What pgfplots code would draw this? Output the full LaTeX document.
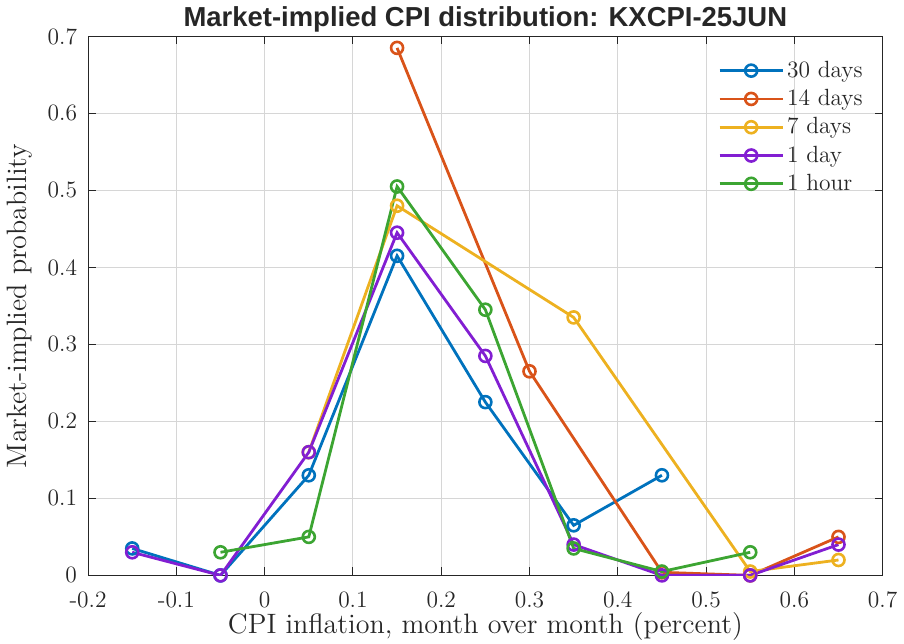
\documentclass[border=0pt]{standalone}
\usepackage{pgfplots}
\pgfplotsset{compat=1.18}
\usepackage{fontspec}
\newfontfamily\titlefont{Liberation Sans}
\definecolor{c1}{rgb}{0,0.447,0.741}
\definecolor{c2}{rgb}{0.85,0.325,0.098}
\definecolor{c3}{rgb}{0.929,0.694,0.125}
\definecolor{c4}{RGB}{130,30,210}
\definecolor{c5}{RGB}{60,165,50}
\definecolor{axc}{RGB}{38,38,38}
\begin{document}
\begin{tikzpicture}
\begin{axis}[
  scale only axis,
  width=396.5pt, height=269pt,
  xmin=-0.2, xmax=0.7, ymin=0, ymax=0.7,
  xtick={-0.2,-0.1,0,0.1,0.2,0.3,0.4,0.5,0.6,0.7},
  xticklabels={-0.2,-0.1,0,0.1,0.2,0.3,0.4,0.5,0.6,0.7},
  ytick={0,0.1,0.2,0.3,0.4,0.5,0.6,0.7},
  yticklabels={0,0.1,0.2,0.3,0.4,0.5,0.6,0.7},
  tick align=inside, xtick pos=both, ytick pos=both,
  major tick length=4pt,
  grid=major,
  grid style={black!16, line width=0.5pt},
  axis line style={axc, line width=0.5pt},
  tick style={axc, line width=0.5pt},
  ticklabel style={font=\fontsize{11.7}{14}\selectfont, text=axc},
  xticklabel style={yshift=-4.5pt},
  yticklabel style={xshift=-2pt},
  label style={font=\fontsize{14}{17}\selectfont, text=axc},
  xlabel={CPI inflation, month over month (percent)},
  xlabel style={yshift=2.5pt, inner sep=1.5pt},
  ylabel={Market-implied probability},
  ylabel style={yshift=1pt},
  title={\fontsize{13.7}{16}\titlefont\bfseries Market-implied CPI distribution: KXCPI-25JUN},
  title style={at={(0.5,1)}, anchor=south, yshift=-7.5pt, text=axc},
  every axis plot/.append style={line width=1.4pt, mark=o, mark size=3pt, mark options={solid, line width=1.3pt}},
  legend style={at={(0.785,0.968)}, anchor=north west, draw=none, fill=none,
    font=\fontsize{11.7}{14}\selectfont, text=axc, row sep=1.5pt,
    nodes={inner sep=1.5pt}},
  legend cell align=left,
  legend image code/.code={\draw[#1, mark repeat=2, mark phase=2] plot coordinates {(0pt,0pt) (15.75pt,0pt) (31.5pt,0pt)};},
]
\addplot[c1] coordinates {
  (-0.15,0.035) (-0.05,0) (0.05,0.13) (0.15,0.415) (0.25,0.225) (0.35,0.065) (0.45,0.13)
};
\addlegendentry{30 days}
\addplot[c2] coordinates {
  (0.15,0.685) (0.30,0.265) (0.45,0.004) (0.55,0) (0.65,0.05)
};
\addlegendentry{14 days}
\addplot[c3] coordinates {
  (0.05,0.16) (0.15,0.48) (0.35,0.335) (0.55,0.005) (0.65,0.02)
};
\addlegendentry{7 days}
\addplot[c4] coordinates {
  (-0.15,0.03) (-0.05,0) (0.05,0.16) (0.15,0.445) (0.25,0.285) (0.35,0.04) (0.45,0) (0.55,0) (0.65,0.04)
};
\addlegendentry{1 day}
\addplot[c5] coordinates {
  (-0.05,0.03) (0.05,0.05) (0.15,0.505) (0.25,0.345) (0.35,0.035) (0.45,0.005) (0.55,0.03)
};
\addlegendentry{1 hour}
\end{axis}
\end{tikzpicture}
\end{document}
